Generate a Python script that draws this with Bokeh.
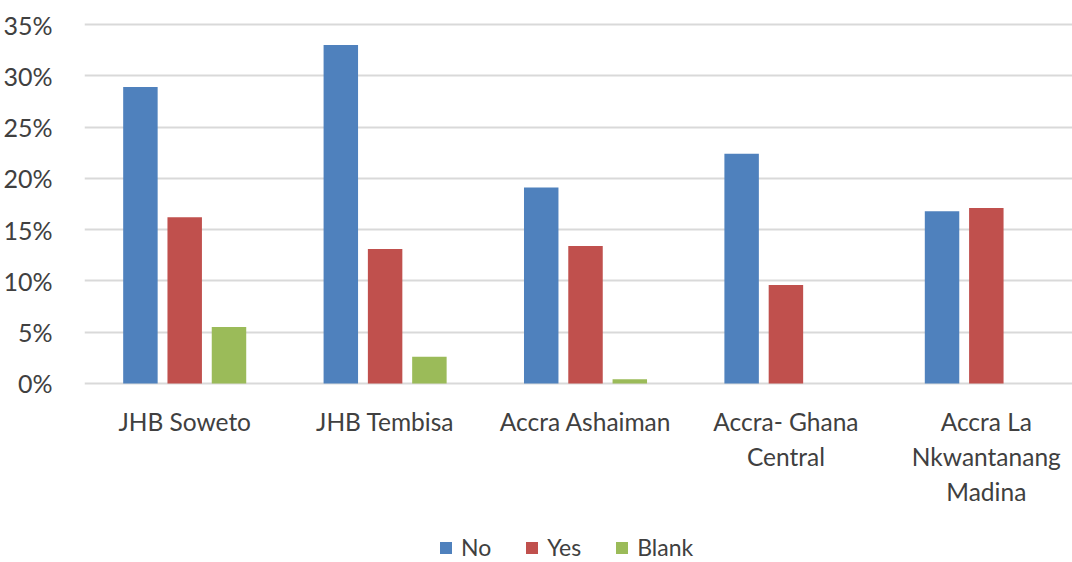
import numpy as np
from bokeh.plotting import figure
from bokeh.layouts import column
from bokeh.models import (Range1d, FixedTicker, NumeralTickFormatter, Legend,
                          LegendItem, ColumnDataSource)
from bokeh.transform import dodge
from bokeh.embed import file_html
from bokeh.resources import INLINE

# Survey sites and share of responses per answer
sites = ["JHB Soweto", "JHB Tembisa", "Accra Ashaiman",
         "Accra- Ghana Central", "Accra La Nkwantanang Madina"]
site_labels = ["JHB Soweto", "JHB Tembisa", "Accra Ashaiman",
               "Accra- Ghana\nCentral", "Accra La\nNkwantanang\nMadina"]
series_names = ["No", "Yes", "Blank"]
no_share = [0.289, 0.330, 0.191, 0.224, 0.168]
yes_share = [0.162, 0.131, 0.134, 0.096, 0.171]
blank_share = [0.055, 0.026, 0.004, 0.0, 0.0]
y_ticks = [0.0, 0.05, 0.10, 0.15, 0.20, 0.25, 0.30, 0.35]

COLORS = ["#4F81BD", "#C0504D", "#9BBB59"]
FONT = "Lato"
TEXT = "#404040"

pos = np.arange(len(sites)) + 0.5
src = ColumnDataSource(dict(x=pos, no=no_share, yes=yes_share, blank=blank_share))

p = figure(frame_width=988, frame_height=363,
           x_range=Range1d(0, 4.93), y_range=Range1d(-0.002, 0.352),
           output_backend="svg", toolbar_location=None,
           min_border_left=84, min_border_right=0,
           min_border_top=22, min_border_bottom=135)
p.outline_line_color = None
p.background_fill_color = "white"

w = 0.172
p.vbar(x=dodge("x", -0.221), top="no", width=w, source=src,
       fill_color=COLORS[0], line_color=None)
p.vbar(x="x", top="yes", width=w, source=src,
       fill_color=COLORS[1], line_color=None)
p.vbar(x=dodge("x", 0.221), top="blank", width=w, source=src,
       fill_color=COLORS[2], line_color=None)

# x axis: site names under each group
xa = p.xaxis[0]
xa.ticker = FixedTicker(ticks=list(pos))
xa.major_label_overrides = {float(x): lab for x, lab in zip(pos, site_labels)}
xa.axis_line_color = None
xa.major_tick_line_color = None
xa.minor_tick_line_color = None
xa.major_label_text_font = FONT
xa.major_label_text_font_size = "24.5px"
xa.major_label_text_color = TEXT
xa.major_label_text_line_height = 1.22
xa.major_label_standoff = 15
p.xgrid.grid_line_color = None

# y axis: percentages with horizontal gridlines
ya = p.yaxis[0]
ya.ticker = FixedTicker(ticks=y_ticks)
ya.formatter = NumeralTickFormatter(format="0%")
ya.axis_line_color = None
ya.major_tick_line_color = None
ya.minor_tick_line_color = None
ya.major_label_text_font = FONT
ya.major_label_text_font_size = "25px"
ya.major_label_text_color = TEXT
ya.major_label_standoff = 26
p.ygrid.ticker = FixedTicker(ticks=y_ticks)
p.ygrid.grid_line_color = "#D9D9D9"
p.ygrid.grid_line_width = 2

# legend strip under the chart (swatches come from off-range dummy bars)
lg = figure(width=1072, height=42, x_range=Range1d(0, 1), y_range=Range1d(0, 1),
            x_axis_type=None, y_axis_type=None,
            output_backend="svg", toolbar_location=None,
            min_border=0)
lg.outline_line_color = None
lg.xgrid.grid_line_color = None
lg.ygrid.grid_line_color = None
swatch = ColumnDataSource(dict(x=[-10.0], top=[0.0]))
items = []
for name, col in zip(series_names, COLORS):
    r = lg.vbar(x="x", top="top", width=0.1, source=swatch,
                fill_color=col, line_color=None)
    items.append(LegendItem(label=name, renderers=[r]))
legend = Legend(items=items, orientation="horizontal", location=(354, 1),
                padding=0, margin=0, spacing=33,
                glyph_width=15, glyph_height=15, label_standoff=8,
                label_height=20,
                label_text_font=FONT, label_text_font_size="23px",
                label_text_color=TEXT,
                border_line_color=None, background_fill_alpha=0)
lg.add_layout(legend)

layout = column(p, lg, spacing=0)
open("out.html", "w").write(file_html(layout, INLINE))
